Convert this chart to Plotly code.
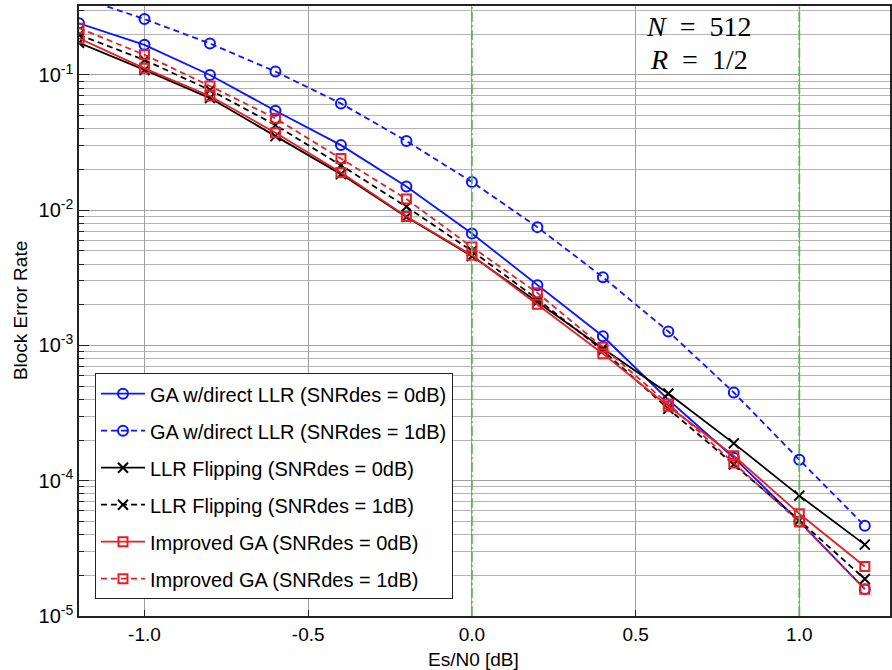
import plotly.graph_objects as go

# ---- data ----
esn0 = [-1.2, -1.0, -0.8, -0.6, -0.4, -0.2, 0.0, 0.2, 0.4, 0.6, 0.8, 1.0, 1.2]

ga_direct_0db = [0.241, 0.167, 0.100, 0.0544, 0.0303, 0.0150, 0.00672, 0.00279, 0.00117, 0.000397, 0.000148, 5.0e-5, 1.58e-5]
ga_direct_1db = [0.377, 0.259, 0.171, 0.106, 0.0616, 0.0325, 0.0162, 0.0075, 0.0032, 0.00127, 0.000449, 0.000143, 4.64e-5]
llr_flip_0db = [0.173, 0.109, 0.0675, 0.0353, 0.0185, 0.0089, 0.00458, 0.0021, 0.00095, 0.000441, 0.000189, 7.76e-5, 3.37e-5]
llr_flip_1db = [0.198, 0.129, 0.0774, 0.0426, 0.0215, 0.0106, 0.0050, 0.0022, 0.00092, 0.00034, 0.000132, 5.1e-5, 1.88e-5]
imp_ga_0db = [0.187, 0.112, 0.0699, 0.0374, 0.0190, 0.0090, 0.00464, 0.00202, 0.00087, 0.000355, 0.000153, 5.7e-5, 2.32e-5]
imp_ga_1db = [0.222, 0.141, 0.0829, 0.0478, 0.0241, 0.0121, 0.00534, 0.00245, 0.00097, 0.00037, 0.000135, 4.96e-5, 1.58e-5]

series_names = [
    "GA w/direct LLR (SNRdes = 0dB)",
    "GA w/direct LLR (SNRdes = 1dB)",
    "LLR Flipping (SNRdes = 0dB)",
    "LLR Flipping (SNRdes = 1dB)",
    "Improved GA (SNRdes = 0dB)",
    "Improved GA (SNRdes = 1dB)",
]

x_tick_vals = [-1.0, -0.5, 0.0, 0.5, 1.0]
x_tick_text = ["-1.0", "-0.5", "0.0", "0.5", "1.0"]
y_tick_vals = [1e-5, 1e-4, 1e-3, 1e-2, 1e-1]
y_tick_text = ["10<sup>-5</sup>", "10<sup>-4</sup>", "10<sup>-3</sup>", "10<sup>-2</sup>", "10<sup>-1</sup>"]
y_minor_vals = [m * 10.0 ** e for e in range(-5, 0) for m in range(2, 10)]
ref_lines = [0.0, 1.0]

BLUE = "rgb(10,20,255)"
BLACK = "rgb(0,0,0)"
RED = "rgb(232,30,36)"
DASH = "6px,4px"

styles = [
    (ga_direct_0db, BLUE, "solid", "circle-open"),
    (ga_direct_1db, BLUE, DASH, "circle-open"),
    (llr_flip_0db, BLACK, "solid", "x-thin-open"),
    (llr_flip_1db, BLACK, DASH, "x-thin-open"),
    (imp_ga_0db, RED, "solid", "square-open"),
    (imp_ga_1db, RED, DASH, "square-open"),
]

fig = go.Figure()
for i, ((vals, col, dash, sym), name) in enumerate(zip(styles, series_names)):
    fig.add_trace(go.Scatter(
        x=esn0, y=vals, name=name, mode="lines+markers",
        legendgroup=f"g{i}",
        line=dict(color=col, width=1.8, dash=dash),
        marker=dict(symbol=sym, size=10 if sym != "square-open" else 9,
                    color=col, line=dict(color=col, width=2)),
    ))

for xv in ref_lines:
    fig.add_vline(x=xv, line=dict(color="rgb(90,180,80)", width=1.8, dash="10px,3px,2px,3px"))

FONT = "Liberation Sans, Arial, Helvetica, sans-serif"

fig.update_layout(
    width=892, height=670, autosize=False,
    margin=dict(l=79, r=0, t=6, b=54),
    paper_bgcolor="white", plot_bgcolor="white",
    font=dict(family=FONT, size=19, color="black"),
    showlegend=True,
    legend=dict(
        x=0.0197, y=0.398, xanchor="left", yanchor="top",
        bgcolor="white", bordercolor="#222", borderwidth=1,
        font=dict(family=FONT, size=20, color="black"),
        tracegroupgap=8, itemwidth=44,
    ),
    xaxis=dict(
        range=[-1.2, 1.277], tickvals=x_tick_vals, ticktext=x_tick_text,
        showgrid=True, gridcolor="#a0a0a0", gridwidth=1,
        ticks="inside", ticklen=6, tickcolor="#222",
        showline=True, linecolor="#222", linewidth=1.5, mirror=True,
        zeroline=False, tickfont=dict(size=19),
    ),
    yaxis=dict(
        type="log", range=[-5, -0.49], tickvals=y_tick_vals, ticktext=y_tick_text,
        showgrid=True, gridcolor="#a0a0a0", gridwidth=1,
        ticks="inside", ticklen=10, tickcolor="#222",
        showline=True, linecolor="#222", linewidth=1.5, mirror=True,
        zeroline=False, tickfont=dict(size=20),
        minor=dict(tickvals=y_minor_vals, showgrid=True, gridcolor="#b4b4b4",
                   gridwidth=1, ticks="inside", ticklen=5, tickcolor="#222"),
    ),
    annotations=[
        dict(text="Block Error Rate", xref="paper", yref="paper",
             x=-0.0726, y=0.5, textangle=-90, showarrow=False,
             font=dict(size=19, family=FONT), xanchor="center", yanchor="middle"),
        dict(text="Es/N0 [dB]", xref="paper", yref="paper",
             x=0.487, y=-0.072, showarrow=False,
             font=dict(size=19, family=FONT), xanchor="center", yanchor="middle"),
        dict(text="<i>N</i>\u2002=\u2002512", xref="paper", yref="paper",
             x=0.764, y=0.9656, showarrow=False,
             font=dict(size=28, family="Liberation Serif, DejaVu Serif, serif"),
             xanchor="center", yanchor="middle"),
        dict(text="<i>R</i>\u2002=\u20021/2", xref="paper", yref="paper",
             x=0.764, y=0.913, showarrow=False,
             font=dict(size=28, family="Liberation Serif, DejaVu Serif, serif"),
             xanchor="center", yanchor="middle"),
    ],
)

fig.write_html("out.html", config={"displayModeBar": False},
               post_script="document.body.style.margin='0';")
